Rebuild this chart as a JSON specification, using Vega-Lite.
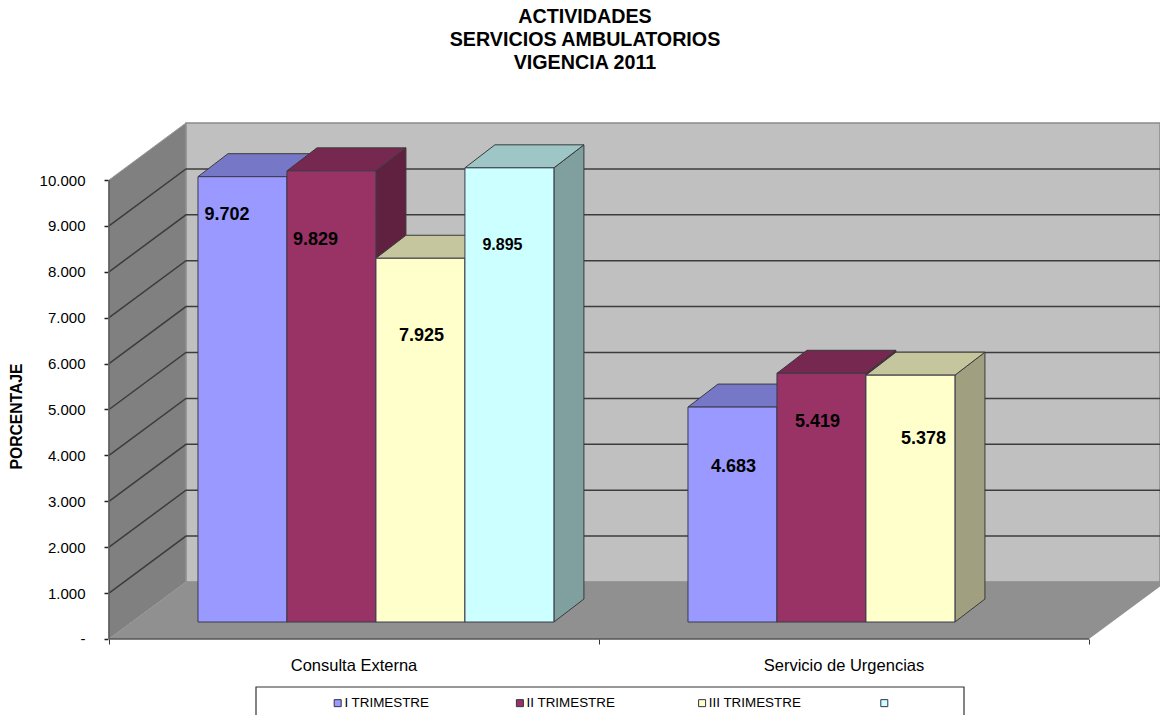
{
  "$schema": "https://vega.github.io/schema/vega-lite/v6.json",
  "width": 1160,
  "height": 715,
  "padding": 0,
  "autosize": {"type": "none"},
  "background": "white",
  "config": {
    "font": "Liberation Sans",
    "view": {"stroke": null}
  },
  "title": {
    "text": ["ACTIVIDADES", "SERVICIOS AMBULATORIOS", "VIGENCIA 2011"],
    "anchor": "middle",
    "frame": "group",
    "baseline": "top",
    "font": "Liberation Sans",
    "fontSize": 19.7,
    "fontWeight": "bold",
    "lineHeight": 23,
    "color": "#000000",
    "offset": -65,
    "dx": 5,
    "dy": 7.5
  },
  "datasets": {
    "bars": [
      {"category": "Consulta Externa", "series": "I TRIMESTRE", "value": 9702},
      {"category": "Consulta Externa", "series": "II TRIMESTRE", "value": 9829},
      {"category": "Consulta Externa", "series": "III TRIMESTRE", "value": 7925},
      {"category": "Consulta Externa", "series": "", "value": 9895},
      {"category": "Servicio de Urgencias", "series": "I TRIMESTRE", "value": 4683},
      {"category": "Servicio de Urgencias", "series": "II TRIMESTRE", "value": 5419},
      {"category": "Servicio de Urgencias", "series": "III TRIMESTRE", "value": 5378}
    ],
    "depthStops": [{"k": 0}, {"k": 1}],
    "gridValues": [
      {"v": 1000}, {"v": 2000}, {"v": 3000}, {"v": 4000}, {"v": 5000},
      {"v": 6000}, {"v": 7000}, {"v": 8000}, {"v": 9000}
    ],
    "categories": [
      {"category": "Consulta Externa", "index": 0},
      {"category": "Servicio de Urgencias", "index": 1}
    ]
  },
  "layer": [
    {
      "description": "Back wall",
      "data": {"values": [{}]},
      "mark": {"type": "rect", "fill": "#c0c0c0", "stroke": "#8a8a8a", "strokeWidth": 1.5},
      "encoding": {
        "x": {
          "datum": 0.1571,
          "type": "quantitative",
          "scale": {"domain": [-0.22245, 2.1449], "nice": false, "zero": false}
        },
        "x2": {"datum": 2.1449},
        "y": {
          "datum": 1242,
          "type": "quantitative",
          "scale": {"domain": [-1655.8, 13921.6], "nice": false, "zero": false}
        },
        "y2": {"datum": 11242}
      }
    },
    {
      "description": "Side wall",
      "data": {"name": "depthStops"},
      "transform": [
        {"calculate": "datum.k * 0.1571", "as": "px"},
        {"calculate": "datum.k * 1242", "as": "low"},
        {"calculate": "10000 + datum.k * 1242", "as": "high"}
      ],
      "mark": {"type": "area", "fill": "#808080", "stroke": "#9a9a9a", "strokeWidth": 1},
      "encoding": {
        "x": {"field": "px", "type": "quantitative"},
        "y": {"field": "low", "type": "quantitative"},
        "y2": {"field": "high"}
      }
    },
    {
      "description": "Floor",
      "data": {"name": "depthStops"},
      "transform": [
        {"calculate": "datum.k * 0.1571", "as": "left"},
        {"calculate": "2 + datum.k * 0.1571", "as": "right"},
        {"calculate": "datum.k * 1242", "as": "low"}
      ],
      "mark": {"type": "area", "orient": "horizontal", "fill": "#909090"},
      "encoding": {
        "x": {"field": "left", "type": "quantitative"},
        "x2": {"field": "right"},
        "y": {"field": "low", "type": "quantitative"}
      }
    },
    {
      "description": "Gridlines, running up the side wall and across the back wall; this layer carries the two axes",
      "data": {"name": "gridValues"},
      "transform": [
        {"calculate": "[0, 1, 2]", "as": "k"},
        {"flatten": ["k"]},
        {"calculate": "datum.k === 0 ? 0 : datum.k === 1 ? 0.1571 : 2.1449", "as": "px"},
        {"calculate": "datum.v + (datum.k === 0 ? 0 : 1242)", "as": "py"}
      ],
      "mark": {"type": "line", "stroke": "#3c3c3c", "strokeWidth": 1.5},
      "encoding": {
        "x": {
          "field": "px",
          "type": "quantitative",
          "axis": {
            "orient": "bottom",
            "offset": -76,
            "values": [0, 1, 2],
            "labels": false,
            "domain": false,
            "grid": false,
            "title": null,
            "tickSize": 5,
            "tickColor": "#333333",
            "tickWidth": 1
          }
        },
        "y": {
          "field": "py",
          "type": "quantitative",
          "axis": {
            "orient": "left",
            "offset": -108,
            "values": [0, 1000, 2000, 3000, 4000, 5000, 6000, 7000, 8000, 9000, 10000],
            "labelExpr": "datum.value === 0 ? '-' : replace(format(datum.value, ','), ',', '.')",
            "labelFontSize": 15,
            "labelColor": "#000000",
            "labelPadding": 19,
            "domain": false,
            "grid": false,
            "tickSize": 4,
            "tickColor": "#222222",
            "tickWidth": 1.5,
            "title": "PORCENTAJE",
            "titleFontSize": 15.7,
            "titleFontWeight": "bold",
            "titleColor": "#000000",
            "titleAngle": -90,
            "titleAlign": "center",
            "titleBaseline": "middle",
            "titleX": -92,
            "titleY": 416
          }
        },
        "detail": {"field": "v"},
        "order": {"field": "k"}
      }
    },
    {
      "description": "Front edges of the floor and of the side wall",
      "data": {"values": [{}]},
      "mark": {"type": "rule", "stroke": "#555555", "strokeWidth": 1.5},
      "encoding": {
        "x": {"datum": 0, "type": "quantitative"},
        "x2": {"datum": 2},
        "y": {"datum": 0, "type": "quantitative"}
      }
    },
    {
      "data": {"values": [{}]},
      "mark": {"type": "rule", "stroke": "#555555", "strokeWidth": 1.5},
      "encoding": {
        "x": {"datum": 0, "type": "quantitative"},
        "y": {"datum": 0, "type": "quantitative"},
        "y2": {"datum": 10000}
      }
    },
    {
      "description": "Oblique bars: side faces, then top faces, then front faces and value labels",
      "data": {"name": "bars"},
      "transform": [
        {"calculate": "indexof(['Consulta Externa', 'Servicio de Urgencias'], datum.category)", "as": "cat"},
        {"calculate": "indexof(['I TRIMESTRE', 'II TRIMESTRE', 'III TRIMESTRE', ''], datum.series)", "as": "pos"},
        {"calculate": "datum.cat + 0.1816 * (1 + datum.pos)", "as": "x0"},
        {"calculate": "datum.x0 + 0.1816", "as": "x1"},
        {"calculate": "370 + datum.value", "as": "top"},
        {"calculate": "datum.cat + '-' + datum.pos", "as": "id"}
      ],
      "resolve": {"scale": {"color": "independent"}},
      "layer": [
        {
          "transform": [
            {"calculate": "[0, 1]", "as": "k"},
            {"flatten": ["k"]},
            {"calculate": "datum.x1 + 0.0612 * datum.k", "as": "px"},
            {"calculate": "370 + 501 * datum.k", "as": "low"},
            {"calculate": "datum.top + 501 * datum.k", "as": "high"}
          ],
          "mark": {"type": "area", "stroke": "#3a3a3a", "strokeWidth": 1},
          "encoding": {
            "x": {"field": "px", "type": "quantitative"},
            "y": {"field": "low", "type": "quantitative"},
            "y2": {"field": "high"},
            "detail": {"field": "id"},
            "color": {
              "field": "series",
              "type": "nominal",
              "legend": null,
              "scale": {
                "domain": ["I TRIMESTRE", "II TRIMESTRE", "III TRIMESTRE", ""],
                "range": ["#6060a0", "#602040", "#a0a080", "#80a0a0"]
              }
            }
          }
        },
        {
          "transform": [
            {"calculate": "[0, 1]", "as": "k"},
            {"flatten": ["k"]},
            {"calculate": "datum.x0 + 0.0612 * datum.k", "as": "left"},
            {"calculate": "datum.x1 + 0.0612 * datum.k", "as": "right"},
            {"calculate": "datum.top + 501 * datum.k", "as": "py"}
          ],
          "mark": {"type": "area", "orient": "horizontal", "stroke": "#3a3a3a", "strokeWidth": 1},
          "encoding": {
            "x": {"field": "left", "type": "quantitative"},
            "x2": {"field": "right"},
            "y": {"field": "py", "type": "quantitative"},
            "detail": {"field": "id"},
            "color": {
              "field": "series",
              "type": "nominal",
              "legend": null,
              "scale": {
                "domain": ["I TRIMESTRE", "II TRIMESTRE", "III TRIMESTRE", ""],
                "range": ["#7777c7", "#772850", "#c6c69e", "#9ec6c6"]
              }
            }
          }
        },
        {
          "transform": [{"calculate": "370", "as": "base"}],
          "mark": {"type": "rect", "stroke": "#3a3a4a", "strokeWidth": 1},
          "encoding": {
            "x": {"field": "x0", "type": "quantitative"},
            "x2": {"field": "x1"},
            "y": {"field": "base", "type": "quantitative"},
            "y2": {"field": "top"},
            "color": {
              "field": "series",
              "type": "nominal",
              "scale": {
                "domain": ["I TRIMESTRE", "II TRIMESTRE", "III TRIMESTRE", ""],
                "range": ["#9999ff", "#993366", "#ffffcc", "#ccffff"]
              },
              "legend": {
                "orient": "none",
                "legendX": 331,
                "legendY": 696,
                "direction": "horizontal",
                "columns": 4,
                "gridAlign": "all",
                "title": null,
                "padding": 0,
                "symbolType": "square",
                "symbolSize": 49,
                "symbolStrokeColor": "#333344",
                "symbolStrokeWidth": 1,
                "labelFontSize": 13.4,
                "labelColor": "#000000",
                "labelOffset": 0,
                "columnPadding": 76.2
              }
            }
          }
        },
        {
          "transform": [
            {"calculate": "{'9702': [-15.5, 38], '9829': [-16, 69], '7925': [1, 78], '9895': [-7, 77], '4683': [1, 60], '5419': [-4, 49], '5378': [13, 64]}[datum.value]", "as": "shift"},
            {"calculate": "(datum.x0 + datum.x1) / 2 + datum.shift[0] / 490", "as": "lx"},
            {"calculate": "datum.top - datum.shift[1] / 0.0459", "as": "ly"},
            {"calculate": "replace(format(datum.value, ','), ',', '.')", "as": "label"}
          ],
          "mark": {"type": "text", "fontWeight": "bold", "align": "center", "baseline": "middle", "color": "#000000"},
          "encoding": {
            "x": {"field": "lx", "type": "quantitative"},
            "y": {"field": "ly", "type": "quantitative"},
            "text": {"field": "label"},
            "size": {"condition": {"test": "datum.series === ''", "value": 16}, "value": 18}
          }
        }
      ]
    },
    {
      "description": "Category names under the floor",
      "data": {"name": "categories"},
      "transform": [
        {"calculate": "datum.index + 0.5", "as": "px"},
        {"calculate": "-588", "as": "py"}
      ],
      "mark": {"type": "text", "fontSize": 16.5, "align": "center", "baseline": "middle", "color": "#000000"},
      "encoding": {
        "x": {"field": "px", "type": "quantitative"},
        "y": {"field": "py", "type": "quantitative"},
        "text": {"field": "category"}
      }
    },
    {
      "description": "Frame around the legend, running off the bottom of the page",
      "data": {"values": [{}]},
      "mark": {"type": "rect", "fill": null, "stroke": "#333333", "strokeWidth": 1.2},
      "encoding": {
        "x": {"datum": 0.3, "type": "quantitative"},
        "x2": {"datum": 1.7449},
        "y": {"datum": -1045.8, "type": "quantitative"},
        "y2": {"datum": -1760}
      }
    }
  ]
}
